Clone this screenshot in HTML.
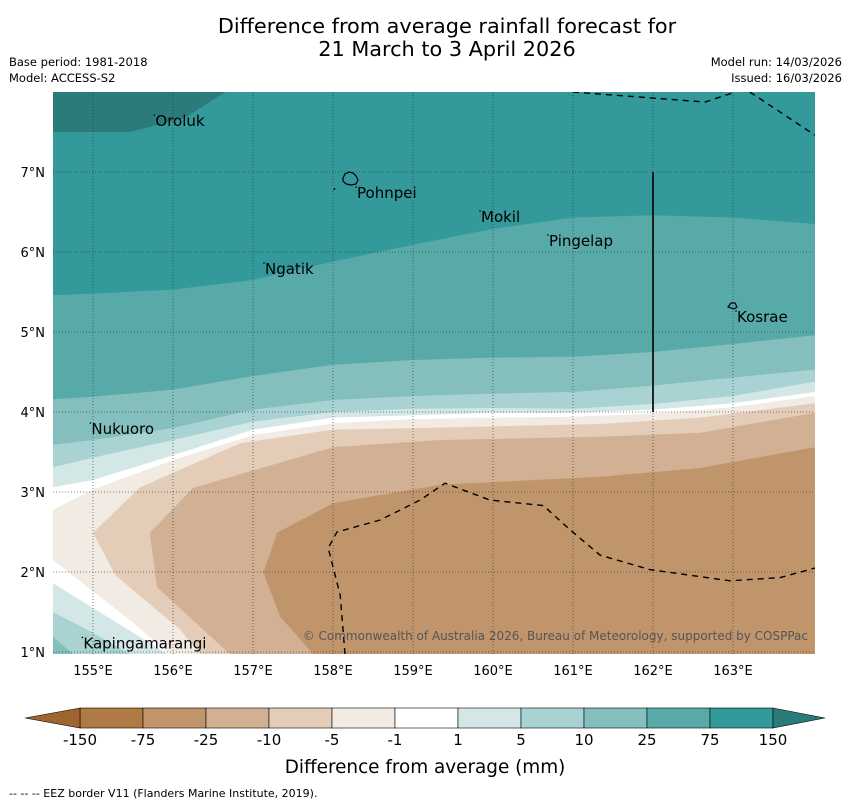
<!DOCTYPE html>
<html><head><meta charset="utf-8"><style>
body{margin:0;background:#fff;font-family:"Liberation Sans","DejaVu Sans",sans-serif;}
svg text{font-family:"DejaVu Sans","Liberation Sans",sans-serif;}
</style></head><body>
<svg id="chart" width="850" height="804" viewBox="0 0 850 804" xmlns="http://www.w3.org/2000/svg">
<text x="447" y="33" text-anchor="middle" font-size="20.8">Difference from average rainfall forecast for</text>
<text x="447" y="56" text-anchor="middle" font-size="20.8">21 March to 3 April 2026</text>
<text x="9" y="66" font-size="11.5">Base period: 1981-2018</text>
<text x="9" y="82" font-size="11.5">Model: ACCESS-S2</text>
<text x="842" y="66" font-size="11.5" text-anchor="end">Model run: 14/03/2026</text>
<text x="842" y="82" font-size="11.5" text-anchor="end">Issued: 16/03/2026</text>
<defs><clipPath id="plotclip"><rect x="53" y="92" width="762" height="562"/></clipPath></defs>
<g id="map" clip-path="url(#plotclip)"></g>
<g id="overlay"></g>
<g id="colorbar"></g>
<text x="425" y="773" text-anchor="middle" font-size="18.4">Difference from average (mm)</text>
<text x="9" y="797" font-size="11">--  --  -- EEZ border V11 (Flanders Marine Institute, 2019).</text>
</svg>
<script>
const NS="http://www.w3.org/2000/svg";
const lonTicks=[155,156,157,158,159,160,161,162,163];
const latTicks=[1,2,3,4,5,6,7];
const cbLabels=["-150","-75","-25","-10","-5","-1","1","5","10","25","75","150"];
const cbColors=["#b07a45","#c0956b","#d1b093","#e3cdb8","#f1ebe4","#ffffff","#d3e7e6","#a9d3d2","#84bfbe","#58aaa9","#33999a"];
const lonGrid=[154.5,155,156,157,158,159,160,161,162,163,164.025];
const c75=[5.46,5.48,5.53,5.65,5.88,6.09,6.29,6.43,6.46,6.43,6.35];
const c25=[4.16,4.19,4.28,4.45,4.59,4.65,4.68,4.69,4.75,4.85,4.96];
const c10=[3.59,3.65,3.80,4.03,4.15,4.20,4.23,4.25,4.33,4.43,4.53];
const c5=[3.31,3.43,3.65,3.88,4.00,4.04,4.05,4.04,4.10,4.20,4.38];
const c1=[3.06,3.15,3.46,3.78,3.93,3.96,3.99,3.99,4.03,4.11,4.25];
const cm1=[2.78,3.03,3.40,3.71,3.86,3.91,3.93,3.94,3.98,4.06,4.20];
const paleBottom=[[164.025,0.975],[155.96,0.975],[155.46,1.4],[154.5,2.15]];
const m5Region=[[155,2.49],[155.59,3.06],[156.84,3.61],[158,3.78],[159.09,3.8],[161.34,3.85],[162.59,3.93],[164.025,4.11],[164.025,0.975],[156.34,0.975],[156.09,1.28],[155.28,1.96]];
const m10Region=[[155.71,2.49],[156.25,3.05],[158,3.56],[159.34,3.65],[161.34,3.69],[162.59,3.74],[164.025,3.99],[164.025,0.975],[156.71,0.975],[155.8,1.81]];
const m25Region=[[157.13,1.99],[157.3,2.49],[158,2.86],[159.34,3.09],[161.34,3.19],[162.59,3.3],[164.025,3.56],[164.025,0.975],[157.75,0.975],[157.34,1.44]];
const llTeal1=[[154.5,1.86],[155.93,0.975],[154.5,0.975]];
const llTeal5=[[154.5,1.5],[155,1.24],[155.46,0.975],[154.5,0.975]];
const llTeal10=[[154.5,1.19],[154.75,0.975],[154.5,0.975]];
const p150=[[154.5,8],[156.65,8],[156.15,7.675],[155.46,7.5],[154.5,7.5]];
const eezSouth=[[158.15,0.975],[158.09,1.71],[157.94,2.3],[158.05,2.5],[158.59,2.65],[159.09,2.9],[159.4,3.11],[159.96,2.9],[160.63,2.83],[160.96,2.53],[161.34,2.21],[161.96,2.03],[162.96,1.89],[163.59,1.93],[164.025,2.05]];
const eezNorth1=[[161,8],[162.65,7.875],[163.03,8]];
const eezNorth2=[[163.21,8],[164.025,7.46]];
const places=[["Oroluk",155.78,7.7],["Pohnpei",158.3,6.8],["Mokil",159.85,6.5],["Pingelap",160.7,6.2],["Ngatik",157.15,5.85],["Kosrae",163.05,5.25],["Nukuoro",154.98,3.85],["Kapingamarangi",154.88,1.17]];
const X=lon=>53+(lon-154.5)*80;
const Y=lat=>92+(8-lat)*80;
const map=document.getElementById('map'), ov=document.getElementById('overlay'), cb=document.getElementById('colorbar');
function mk(tag,attrs,parent){const e=document.createElementNS(NS,tag);for(const k in attrs)e.setAttribute(k,attrs[k]);parent.appendChild(e);return e;}
function ptsStr(arr){return arr.map(p=>X(p[0]).toFixed(1)+","+Y(p[1]).toFixed(1)).join(" ");}
function poly(arr,fill,name){const e=mk('polygon',{points:ptsStr(arr),fill:fill},map);

}
function lineRegionAbove(lats){const a=[[154.5,8]];lats.forEach((v,i)=>a.push([lonGrid[i],v]));a.push([164.025,8]);return a;}
let bg=mk('rect',{x:53,y:92,width:762,height:562,fill:'#ffffff'},map);


const paleArr=cm1.map((v,i)=>[lonGrid[i],v]).concat(paleBottom);
poly(paleArr,cbColors[4],'band-minus1-to-minus5');
poly(m5Region,cbColors[3],'band-minus5-to-minus10');
poly(m10Region,cbColors[2],'band-minus10-to-minus25');
poly(m25Region,cbColors[1],'band-minus25-to-minus75');
poly(lineRegionAbove(c1),cbColors[6],'band-1-to-5');
poly(lineRegionAbove(c5),cbColors[7],'band-5-to-10');
poly(lineRegionAbove(c10),cbColors[8],'band-10-to-25');
poly(lineRegionAbove(c25),cbColors[9],'band-25-to-75');
poly(lineRegionAbove(c75),cbColors[10],'band-75-to-150');
poly(p150,'#2b7b7a','band-above-150');
poly(llTeal1,cbColors[6],'band-1-to-5-southwest');
poly(llTeal5,cbColors[7],'band-5-to-10-southwest');
poly(llTeal10,cbColors[8],'band-10-to-25-southwest');
lonTicks.forEach(l=>{const g=mk('line',{x1:X(l),x2:X(l),y1:92,y2:654,stroke:'#333','stroke-width':0.8,'stroke-dasharray':'1,2',opacity:0.8},map);

});
latTicks.forEach(l=>{const g=mk('line',{x1:53,x2:815,y1:Y(l),y2:Y(l),stroke:'#333','stroke-width':0.8,'stroke-dasharray':'1,2',opacity:0.8},map);

});
[eezSouth,eezNorth1,eezNorth2].forEach(a=>{const e=mk('polyline',{points:ptsStr(a),fill:'none',stroke:'#000','stroke-width':1.4,'stroke-dasharray':'6,5'},map);

});
const vl=mk('line',{x1:X(162),x2:X(162),y1:Y(7),y2:Y(4),stroke:'#111','stroke-width':1.8},map);


const pn=mk('path',{d:"M343,178 l2,-4 l4,-2 l4,1 l3,3 l2,4 l-2,4 l-5,1 l-5,-1 l-3,-3 z M334,190 l1,-2",fill:'none',stroke:'#000','stroke-width':1.2},map);


const ks=mk('path',{d:"M728,307 l3,-4 l4,0 l2,4 l-3,2 z",fill:'none',stroke:'#000','stroke-width':1.2},map);


places.forEach(p=>{const t=mk('text',{x:X(p[1]),y:Y(p[2])+10,'font-size':15,fill:'#000'},map);t.textContent=p[0];


const d=mk('circle',{cx:X(p[1])-1,cy:Y(p[2])-1,r:0.8,fill:'#000'},map);

});
const cr=mk('text',{x:808,y:640,'font-size':12,'text-anchor':'end',fill:'#555'},map);cr.textContent="© Commonwealth of Australia 2026, Bureau of Meteorology, supported by COSPPac";


lonTicks.forEach(l=>{const t=mk('text',{x:X(l),y:675,'font-size':13,'text-anchor':'middle'},ov);t.textContent=l+"°E";

});
latTicks.forEach(l=>{const t=mk('text',{x:45,y:Y(l)+5,'font-size':13,'text-anchor':'end'},ov);t.textContent=l+"°N";

});
const cbx=80,cbw=63,cby=708,cbh=20;
cbColors.forEach((c,i)=>{const r=mk('rect',{x:cbx+i*cbw,y:cby,width:cbw,height:cbh,fill:c,stroke:'#000','stroke-width':0.6},cb);

});
const lt=mk('polygon',{points:`${cbx},${cby} 25,${cby+cbh/2} ${cbx},${cby+cbh}`,fill:'#9d6630',stroke:'#000','stroke-width':0.6},cb);


const rt=mk('polygon',{points:`${cbx+11*cbw},${cby} 825,${cby+cbh/2} ${cbx+11*cbw},${cby+cbh}`,fill:'#2b7b7a',stroke:'#000','stroke-width':0.6},cb);


cbLabels.forEach((s,i)=>{const t=mk('text',{x:cbx+i*cbw,y:745,'font-size':15,'text-anchor':'middle'},cb);t.textContent=s;

});
</script>
</body></html>
